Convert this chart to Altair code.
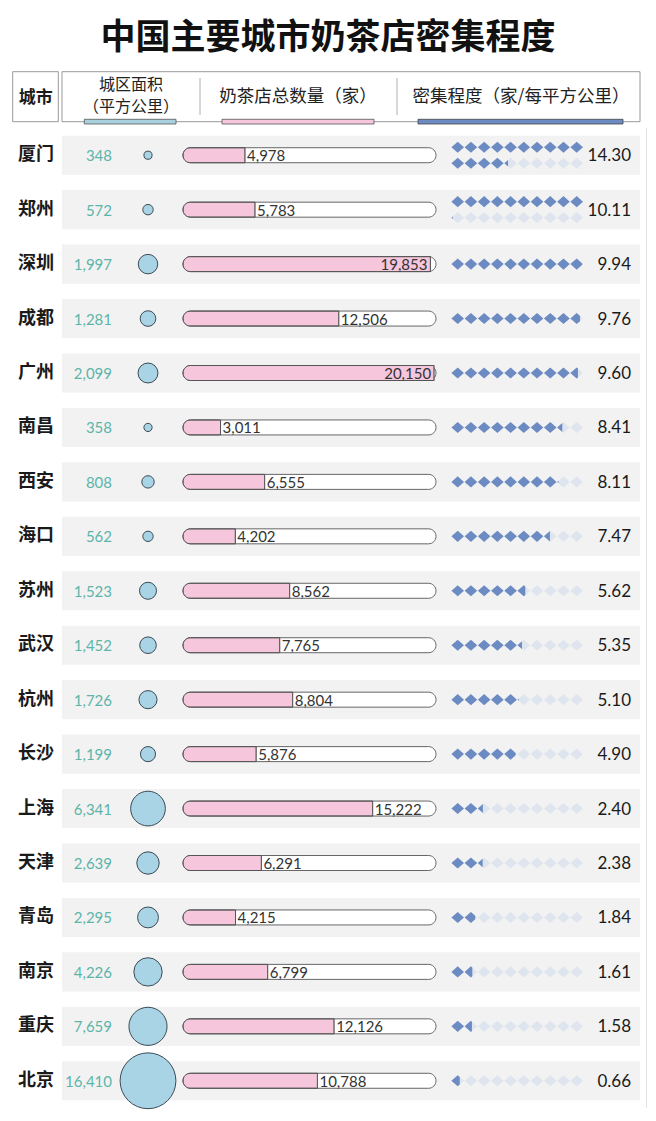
import altair as alt
import pandas as pd

# ---------------- data ----------------
cities = ["厦门", "郑州", "深圳", "成都", "广州", "南昌", "西安", "海口", "苏州",
          "武汉", "杭州", "长沙", "上海", "天津", "青岛", "南京", "重庆", "北京"]
area_km2 = [348, 572, 1997, 1281, 2099, 358, 808, 562, 1523,
            1452, 1726, 1199, 6341, 2639, 2295, 4226, 7659, 16410]
shop_count = [4978, 5783, 19853, 12506, 20150, 3011, 6555, 4202, 8562,
              7765, 8804, 5876, 15222, 6291, 4215, 6799, 12126, 10788]
density = [14.30, 10.11, 9.94, 9.76, 9.60, 8.41, 8.11, 7.47, 5.62,
           5.35, 5.10, 4.90, 2.40, 2.38, 1.84, 1.61, 1.58, 0.66]

title_text = "中国主要城市奶茶店密集程度"
header_labels = ["城市", "城区面积", "（平方公里）", "奶茶店总数量（家）", "密集程度（家/每平方公里）"]

df = pd.DataFrame({"city": cities, "area": area_km2, "shops": shop_count, "density": density})
df["big"] = df["shops"] >= 17000

# diamond glyphs (one per unit of density, partial fill for the remainder)
DH = 0.88


def diamond_path(f):
    if f >= 1:
        return f"M-1,0L0,{-DH}L1,0L0,{DH}Z"
    c = -1 + 2 * f
    if c <= 0:
        h = (1 + c) * DH
        return f"M-1,0L{c:.3f},{-h:.3f}L{c:.3f},{h:.3f}Z"
    h = (1 - c) * DH
    return f"M-1,0L0,{-DH}L{c:.3f},{-h:.3f}L{c:.3f},{h:.3f}L0,{DH}Z"


FULL = diamond_path(1)
rows = []
for c, d in zip(cities, density):
    nlines = 2 if d > 10 else 1
    for line in range(nlines):
        pos = "single" if nlines == 1 else ("top" if line == 0 else "bottom")
        for k in range(10):
            f = min(max(d - (line * 10 + k), 0.0), 1.0)
            rows.append(dict(city=c, k=k, pos=pos, frac=f, path=diamond_path(f) if f > 0 else ""))
ddf = pd.DataFrame(rows)

# ---------------- styles ----------------
CJK = "Noto Sans CJK SC"
NUM = "Lato"
W = 640
STEP = 54.45
H = round(STEP * len(cities))
BAR_MAX = 20300
PINK = "#f5c6dc"
BLUE = "#6d8bc3"
LIGHT = "#dfe5ee"
TEAL = "#5cb5a9"
CIRCLE = "#a8d4e6"

yenc = alt.Y("city:N", sort=cities, axis=None,
             scale=alt.Scale(paddingInner=0.282, paddingOuter=0.141))

base = alt.Chart(df)

bg = base.mark_rect(color="#f2f2f2").encode(y=yenc, x=alt.value(54), x2=alt.value(632))

city_text = base.mark_text(font=CJK, fontWeight="bold", fontSize=18, color="#1a1a1a",
                           align="center", baseline="middle").encode(
    y=yenc, x=alt.value(28), text="city:N")

area_text = base.mark_text(font=NUM, fontSize=15, color=TEAL, align="right",
                           baseline="middle", dy=1).encode(
    y=yenc, x=alt.value(104), text=alt.Text("area:Q", format=","))

circles = base.mark_circle(fill=CIRCLE, stroke="#3c4a55", strokeWidth=1, opacity=1).encode(
    y=yenc, x=alt.value(140),
    size=alt.Size("area:Q", scale=alt.Scale(domain=[0, 16410], range=[0, 3117]), legend=None))

bar_scale = alt.Scale(domain=[0, BAR_MAX], range=[175, 428])
outline = base.mark_bar(height=15, cornerRadius=7.5, fill="white", stroke="#666",
                        strokeWidth=1).encode(
    y=yenc,
    x=alt.XDatum(0, type="quantitative", scale=bar_scale, axis=None),
    x2=alt.X2Datum(BAR_MAX))
pink = base.mark_bar(height=15, fill=PINK, stroke="#555", strokeWidth=1,
                     cornerRadiusTopLeft=7.5, cornerRadiusBottomLeft=7.5).encode(
    y=yenc, x=alt.X("shops:Q", scale=bar_scale, axis=None))
lab_out = base.mark_text(font=NUM, fontSize=15, color="#333", align="left", dx=2,
                         baseline="middle", dy=1).encode(
    y=yenc, x=alt.X("shops:Q", scale=bar_scale, axis=None),
    text=alt.Text("shops:Q", format=",")).transform_filter("!datum.big")
lab_in = base.mark_text(font=NUM, fontSize=15, color="#333", align="right", dx=-3,
                        baseline="middle", dy=1).encode(
    y=yenc, x=alt.X("shops:Q", scale=bar_scale, axis=None),
    text=alt.Text("shops:Q", format=",")).transform_filter("datum.big")
bar_group = alt.layer(outline, pink, lab_out, lab_in)

dscale = alt.Scale(domain=[0, 9], range=[449.7, 568.7])
dbase = alt.Chart(ddf)
dlayers = []
for pos, off in [("single", 0), ("top", -8), ("bottom", 8)]:
    empty = dbase.mark_point(shape=FULL, filled=True, color=LIGHT, opacity=1, size=160,
                             yOffset=off).encode(
        y=yenc, x=alt.X("k:Q", scale=dscale, axis=None)).transform_filter(
        f"datum.pos == '{pos}' && datum.frac < 1")
    full = dbase.mark_point(filled=True, color=BLUE, opacity=1, size=160,
                            yOffset=off).encode(
        y=yenc, x=alt.X("k:Q", scale=dscale, axis=None),
        shape=alt.Shape("path:N", scale=None, legend=None)).transform_filter(
        f"datum.pos == '{pos}' && datum.frac > 0")
    dlayers += [empty, full]
diamond_group = alt.layer(*dlayers)

dens_text = base.mark_text(font=NUM, fontSize=17, color="#1a1a1a", align="right",
                           baseline="middle", dy=1).encode(
    y=yenc, x=alt.value(623), text=alt.Text("density:Q", format=".2f"))

right_rule = base.mark_rule(color="#e2e2e2", strokeWidth=1).encode(
    x=alt.value(638.5), y=alt.value(0), y2=alt.value(H))

body = alt.layer(bg, right_rule, city_text, area_text, circles, bar_group, diamond_group,
                 dens_text).resolve_scale(x="independent").properties(width=W, height=H)

# ---------------- header ----------------
hb = alt.Chart(pd.DataFrame({"d": [0]}))


def rect(x, x2, y, y2, **kw):
    return hb.mark_rect(**kw).encode(x=alt.value(x), x2=alt.value(x2),
                                      y=alt.value(y), y2=alt.value(y2))


def text(t, x, y, **kw):
    return hb.mark_text(text=t, align="center", baseline="middle", font=CJK, **kw).encode(
        x=alt.value(x), y=alt.value(y))


def vline(x, y, y2):
    return hb.mark_rule(color="#b0b0b0", strokeWidth=1).encode(
        x=alt.value(x), y=alt.value(y), y2=alt.value(y2))


header = alt.layer(
    text(title_text, 320, 30, fontSize=35, fontWeight="bold", color="#111"),
    rect(4.7, 50.3, 63.7, 113.7, fill="white", stroke="#999", strokeWidth=1),
    rect(54, 632, 63.7, 113.7, fill="white", stroke="#999", strokeWidth=1),
    vline(192, 70, 107),
    vline(389, 70, 107),
    text(header_labels[0], 27.8, 90, fontSize=17, fontWeight="bold", color="#1a1a1a"),
    text(header_labels[1], 123, 77, fontSize=16, color="#222"),
    text(header_labels[2], 123, 99, fontSize=16, color="#222"),
    text(header_labels[3], 290, 89, fontSize=17.5, color="#222"),
    text(header_labels[4], 513, 89, fontSize=17.5, color="#222"),
    rect(76.3, 168, 111.3, 116, fill="#a9d1dd", stroke="#555", strokeWidth=0.8),
    rect(214, 366, 111.3, 116, fill=PINK, stroke="#555", strokeWidth=0.8),
    rect(410, 615, 111.3, 116, fill=BLUE, stroke="#444", strokeWidth=0.8),
).properties(width=W, height=119)

chart = alt.vconcat(header, body, spacing=0).properties(padding=0).configure_view(
    stroke=None).configure_concat(spacing=0)

chart.save("out.html", embed_options={"renderer": "svg", "actions": False})
